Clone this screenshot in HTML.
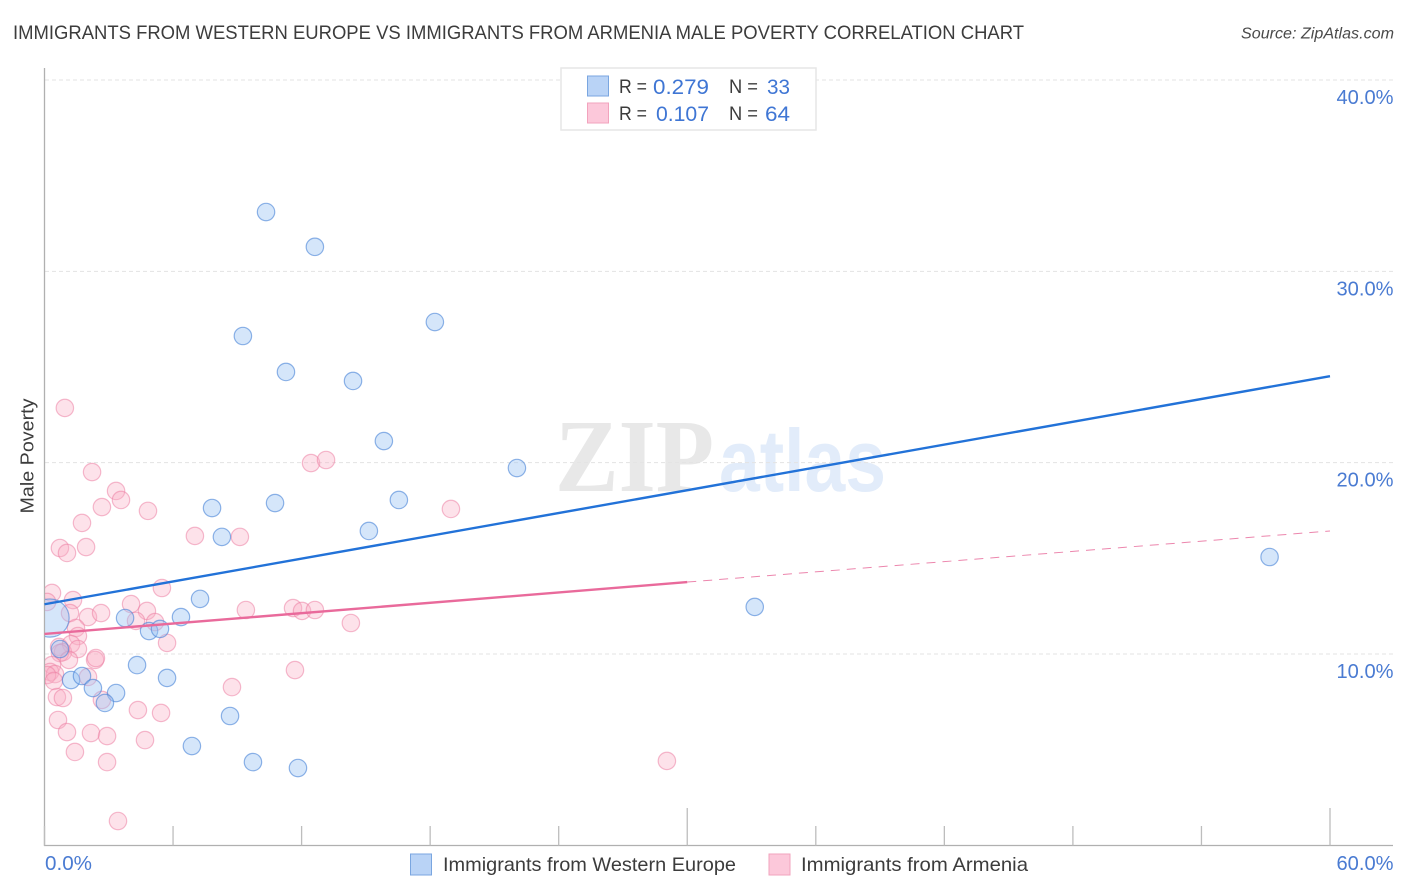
<!DOCTYPE html>
<html lang="en">
<head>
<meta charset="utf-8">
<title>Immigrants from Western Europe vs Immigrants from Armenia Male Poverty Correlation Chart</title>
<style>
  html, body { margin: 0; padding: 0; background: #fff; }
  body { width: 1406px; height: 892px; overflow: hidden; }
  svg { display: block; font-family: "Liberation Sans", sans-serif; }
</style>
</head>
<body>
<svg id="chart" xmlns="http://www.w3.org/2000/svg" width="1406" height="892" viewBox="0 0 1406 892">
  <defs>
    <clipPath id="plot-clip"><rect x="45" y="60" width="1350" height="785"></rect></clipPath>
  </defs>
  <rect x="0" y="0" width="1406" height="892" fill="#ffffff"></rect>

  <text x="13" y="39" font-size="19.5" fill="#3c3c3c" textLength="1011" lengthAdjust="spacingAndGlyphs">IMMIGRANTS FROM WESTERN EUROPE VS IMMIGRANTS FROM ARMENIA MALE POVERTY CORRELATION CHART</text>
  <text x="1241" y="38.5" font-size="15.5" font-style="italic" fill="#4a4a4a" textLength="153" lengthAdjust="spacingAndGlyphs">Source: ZipAtlas.com</text>

  <g>
    <text x="555" y="491" font-family="'Liberation Serif', serif" font-weight="700" font-size="104" fill="#e8e8e8" textLength="159" lengthAdjust="spacingAndGlyphs">ZIP</text>
    <text x="719" y="491" font-family="'Liberation Sans', sans-serif" font-weight="700" font-size="88" fill="#e2ecfa" textLength="167" lengthAdjust="spacingAndGlyphs">atlas</text>
  </g>

  <g id="grid"></g>
  <g id="axes"></g>
  <g id="points" clip-path="url(#plot-clip)"></g>
  <g id="trends"></g>

  <text transform="translate(33.5 513.5) rotate(-90)" font-size="18" fill="#3c3c3c" textLength="115" lengthAdjust="spacingAndGlyphs">Male Poverty</text>

  <g>
    <rect x="561" y="68" width="255" height="62" fill="#ffffff" stroke="#e6e6e6" stroke-width="1.5"></rect>
    <rect x="587.5" y="76" width="21" height="20" fill="#b9d3f6" stroke="#7aa6e0" stroke-width="1"></rect>
    <rect x="587.5" y="103" width="21" height="20" fill="#fcc8da" stroke="#f2a3bd" stroke-width="1"></rect>
    <text x="619" y="93" font-size="19.5" fill="#3c3c3c" textLength="28" lengthAdjust="spacingAndGlyphs">R =</text>
    <text x="653" y="94" font-size="21" fill="#3f76d4" textLength="56" lengthAdjust="spacingAndGlyphs">0.279</text>
    <text x="729" y="93" font-size="19.5" fill="#3c3c3c" textLength="29" lengthAdjust="spacingAndGlyphs">N =</text>
    <text x="767" y="94" font-size="21" fill="#3f76d4" textLength="23" lengthAdjust="spacingAndGlyphs">33</text>
    <text x="619" y="120" font-size="19.5" fill="#3c3c3c" textLength="28" lengthAdjust="spacingAndGlyphs">R =</text>
    <text x="656" y="121" font-size="21" fill="#3f76d4" textLength="53" lengthAdjust="spacingAndGlyphs">0.107</text>
    <text x="729" y="120" font-size="19.5" fill="#3c3c3c" textLength="29" lengthAdjust="spacingAndGlyphs">N =</text>
    <text x="765" y="121" font-size="21" fill="#3f76d4" textLength="25" lengthAdjust="spacingAndGlyphs">64</text>
  </g>

  <g>
    <rect x="410.5" y="854" width="21" height="21" fill="#b9d3f6" stroke="#7aa6e0" stroke-width="1"></rect>
    <text x="443" y="871" font-size="19.5" fill="#3c3c3c" textLength="293" lengthAdjust="spacingAndGlyphs">Immigrants from Western Europe</text>
    <rect x="769" y="854" width="21" height="21" fill="#fcc8da" stroke="#f2a3bd" stroke-width="1"></rect>
    <text x="801" y="871" font-size="19.5" fill="#3c3c3c" textLength="227" lengthAdjust="spacingAndGlyphs">Immigrants from Armenia</text>
  </g>
</svg>

<script>
const yTicks = [10, 20, 30, 40];
const yTickLabels = ['10.0%', '20.0%', '30.0%', '40.0%'];
const xTicks = [0, 6, 12, 18, 24, 30, 36, 42, 48, 54, 60];
const xMajorTicks = [30, 60];
const xEndLabels = ['0.0%', '60.0%'];
const xEndValues = [0, 60];

const westernEuropeX = [10.34, 12.62, 9.26, 18.22, 11.27, 14.40, 15.84, 22.05, 7.82, 10.76, 16.54, 15.14, 8.28, 7.26, 3.76, 4.88, 5.39, 6.37, 4.32, 5.72, 0.72, 1.24, 1.75, 2.26, 3.34, 2.82, 8.66, 6.88, 9.73, 11.83, 33.15, 57.18, 0.26];
const westernEuropeY = [33.10, 31.28, 26.62, 27.35, 24.74, 24.27, 21.13, 19.72, 17.63, 17.89, 18.05, 16.43, 16.12, 12.88, 11.88, 11.20, 11.31, 11.93, 9.42, 8.75, 10.26, 8.64, 8.85, 8.22, 7.96, 7.44, 6.76, 5.19, 4.35, 4.04, 12.46, 15.07, 11.88];
const westernEuropeWeight = [1, 1, 1, 1, 1, 1, 1, 1, 1, 1, 1, 1, 1, 1, 1, 1, 1, 1, 1, 1, 1, 1, 1, 1, 1, 1, 1, 1, 1, 1, 1, 1, 5];

const armeniaX = [0.95, 2.22, 3.34, 3.57, 2.68, 4.83, 1.75, 0.72, 1.94, 1.05, 7.02, 9.12, 12.44, 13.14, 18.97, 0.35, 0.12, 1.33, 4.04, 5.48, 4.78, 2.03, 2.64, 1.19, 1.47, 4.27, 5.16, 1.56, 5.72, 9.40, 11.60, 12.02, 12.62, 14.30, 11.69, 8.75, 0.68, 1.24, 0.86, 1.56, 0.72, 2.36, 2.40, 1.14, 0.35, 0.26, 0.49, 0.12, 0.44, 2.03, 0.58, 0.86, 2.68, 4.36, 5.44, 0.63, 1.05, 2.17, 2.92, 4.69, 1.42, 2.92, 29.05, 3.43];
const armeniaY = [22.86, 19.51, 18.52, 18.05, 17.68, 17.48, 16.85, 15.54, 15.59, 15.28, 16.17, 16.12, 19.98, 20.14, 17.58, 13.19, 12.72, 12.82, 12.61, 13.45, 12.25, 11.93, 12.14, 12.14, 11.36, 11.73, 11.67, 10.94, 10.58, 12.30, 12.40, 12.25, 12.30, 11.62, 9.16, 8.27, 10.37, 10.52, 10.10, 10.26, 10.05, 9.69, 9.79, 9.69, 9.42, 9.06, 8.95, 8.90, 8.59, 8.80, 7.75, 7.70, 7.60, 7.07, 6.92, 6.55, 5.92, 5.87, 5.71, 5.50, 4.88, 4.35, 4.41, 1.27];

const westernEuropeTrendX = [0, 60];
const westernEuropeTrendY = [12.60, 24.52];
const armeniaSolidTrendX = [0, 30];
const armeniaSolidTrendY = [11.05, 13.76];
const armeniaDashedTrendX = [30, 60];
const armeniaDashedTrendY = [13.76, 16.43];

const NS = 'http://www.w3.org/2000/svg';
function scaleX(v) { return 44.5 + v * (1330 - 44.5) / 60; }
function scaleY(v) { return 654 - (v - 10) * (654 - 80) / 30; }
function radius(w) { return 8.7 * Math.sqrt(w) * (w > 1 ? 0.98 : 1); }
function make(tag, parent, attrs) {
  const el = document.createElementNS(NS, tag);
  Object.keys(attrs).forEach(function (k) { el.setAttribute(k, attrs[k]); });
  parent.appendChild(el);
  return el;
}

const grid = document.getElementById('grid');
const axes = document.getElementById('axes');
const pointsGroup = document.getElementById('points');
const trends = document.getElementById('trends');

yTicks.forEach(function (t, i) {
  const line = make('line', grid, { x1: 45, x2: 1393, y1: scaleY(t), y2: scaleY(t), stroke: '#e3e3e3', 'stroke-width': 1, 'stroke-dasharray': '4 3' });
  
  
  const label = make('text', axes, { x: 1393.5, y: scaleY(t) + 24, 'text-anchor': 'end', 'font-size': 20, fill: '#4a7bd2', textLength: 57, lengthAdjust: 'spacingAndGlyphs' });
  
  
  label.textContent = yTickLabels[i];
});

const yAxisLine = make('line', axes, { x1: 44.5, x2: 44.5, y1: 68, y2: 846, stroke: '#b0b0b0', 'stroke-width': 1.3 });


const xAxisLine = make('line', axes, { x1: 44, x2: 1393, y1: 845.5, y2: 845.5, stroke: '#b0b0b0', 'stroke-width': 1.3 });



xTicks.forEach(function (t) {
  const top = xMajorTicks.indexOf(t) >= 0 ? 808 : 826;
  const tick = make('line', axes, { x1: scaleX(t), x2: scaleX(t), y1: top, y2: 845.5, stroke: '#bdbdbd', 'stroke-width': 1.3 });
  
  
});

xEndLabels.forEach(function (text, i) {
  const anchorEnd = i === 1;
  const label = make('text', axes, { x: anchorEnd ? scaleX(xEndValues[i]) + 63.5 : scaleX(xEndValues[i]) + 0.5, y: 870, 'text-anchor': anchorEnd ? 'end' : 'start', 'font-size': 20, fill: '#4a7bd2', textLength: anchorEnd ? 57 : 47, lengthAdjust: 'spacingAndGlyphs' });
  
  
  label.textContent = text;
});

armeniaX.forEach(function (x, i) {
  const c = make('circle', pointsGroup, { cx: scaleX(x), cy: scaleY(armeniaY[i]), r: radius(1), fill: 'rgba(250,175,198,0.36)', stroke: 'rgba(236,125,162,0.52)', 'stroke-width': 1.2 });
  
  
});

westernEuropeX.forEach(function (x, i) {
  const c = make('circle', pointsGroup, { cx: scaleX(x), cy: scaleY(westernEuropeY[i]), r: radius(westernEuropeWeight[i]), fill: 'rgba(155,195,243,0.42)', stroke: 'rgba(70,130,215,0.6)', 'stroke-width': 1.2 });
  
  
});

const blueTrend = make('line', trends, { x1: scaleX(westernEuropeTrendX[0]), y1: scaleY(westernEuropeTrendY[0]), x2: scaleX(westernEuropeTrendX[1]), y2: scaleY(westernEuropeTrendY[1]), stroke: '#2272d8', 'stroke-width': 2.4 });


const pinkTrend = make('line', trends, { x1: scaleX(armeniaSolidTrendX[0]), y1: scaleY(armeniaSolidTrendY[0]), x2: scaleX(armeniaSolidTrendX[1]), y2: scaleY(armeniaSolidTrendY[1]), stroke: '#e96a9b', 'stroke-width': 2.4 });


const pinkDash = make('line', trends, { x1: scaleX(armeniaDashedTrendX[0]), y1: scaleY(armeniaDashedTrendY[0]), x2: scaleX(armeniaDashedTrendX[1]), y2: scaleY(armeniaDashedTrendY[1]), stroke: '#ec86ad', 'stroke-width': 1, 'stroke-dasharray': '9 7' });


</script>
</body>
</html>
